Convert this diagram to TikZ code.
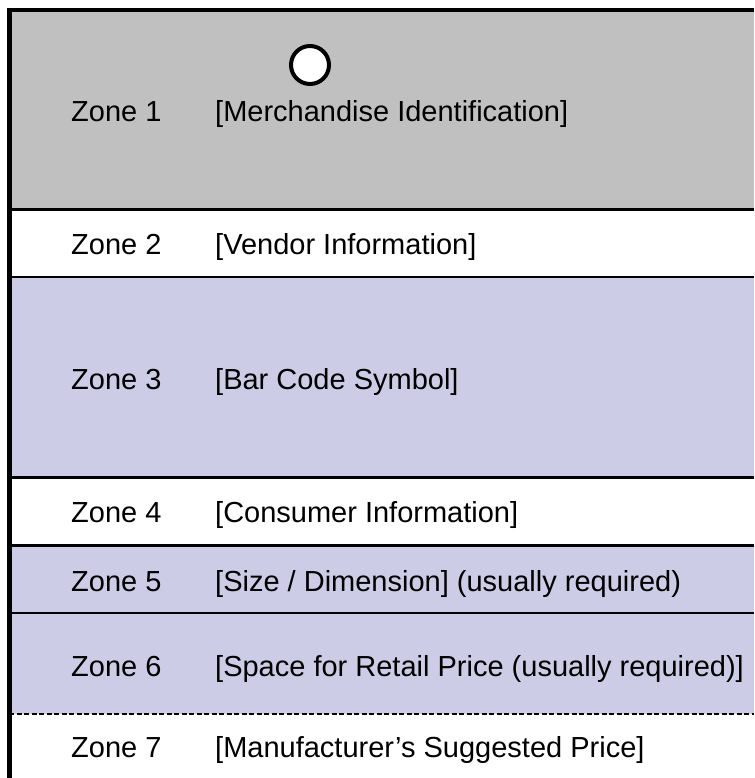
\documentclass[tikz,border=0pt]{standalone}
\usepackage{fontspec}
\setmainfont{Liberation Sans}
\definecolor{zgray}{RGB}{192,192,192}
\definecolor{zlav}{RGB}{204,204,230}
\begin{document}
\begin{tikzpicture}[x=1pt,y=-1pt,
  lbl/.style={anchor=base west,inner sep=0pt,font=\fontsize{29}{34}\selectfont},
  sep/.style={draw=black,line width=3pt},
  hole/.style={circle,draw=black,fill=white,line width=4pt,minimum size=38pt,inner sep=0pt}]
\useasboundingbox (0,0) rectangle (754,778);
% bands
\fill[zgray] (9,10) rectangle (754,209.5);
\fill[white] (9,209.5) rectangle (754,277);
\fill[zlav] (9,277) rectangle (754,477.5);
\fill[white] (9,477.5) rectangle (754,545.5);
\fill[zlav] (9,545.5) rectangle (754,714);
\fill[white] (9,714) rectangle (754,778);
% separators
\draw[sep] (9,209.5) -- (754,209.5);
\draw[sep,line width=2.5pt] (9,277) -- (754,277);
\draw[sep] (9,477.5) -- (754,477.5);
\draw[sep] (9,545.5) -- (754,545.5);
\draw[sep,line width=2pt] (9,613) -- (754,613);
\draw[black,line width=2pt,dash pattern=on 5pt off 2.5pt] (9,714) -- (754,714);
% outer border (top and left)
\draw[black,line width=4.5pt] (9.5,778) -- (9.5,10) -- (754,10);
% hole
\node[hole] (hole) at (310,65) {};
% labels
\node[lbl] (z1) at (71,122) {Zone 1};
\node[lbl] (t1) at (215,122) {[Merchandise Identification]};
\node[lbl] (z2) at (71,254) {Zone 2};
\node[lbl] (t2) at (215,254) {[Vendor Information]};
\node[lbl] (z3) at (71,389) {Zone 3};
\node[lbl] (t3) at (215,389) {[Bar Code Symbol]};
\node[lbl] (z4) at (71,522) {Zone 4};
\node[lbl] (t4) at (215,522) {[Consumer Information]};
\node[lbl] (z5) at (71,591) {Zone 5};
\node[lbl] (t5) at (215,591) {[Size / Dimension] (usually required)};
\node[lbl] (z6) at (71,676) {Zone 6};
\node[lbl] (t6) at (215,676) {[Space for Retail Price (usually required)]};
\node[lbl] (z7) at (71,757) {Zone 7};
\node[lbl] (t7) at (215,757) {[Manufacturer’s Suggested Price]};
\end{tikzpicture}
\end{document}
